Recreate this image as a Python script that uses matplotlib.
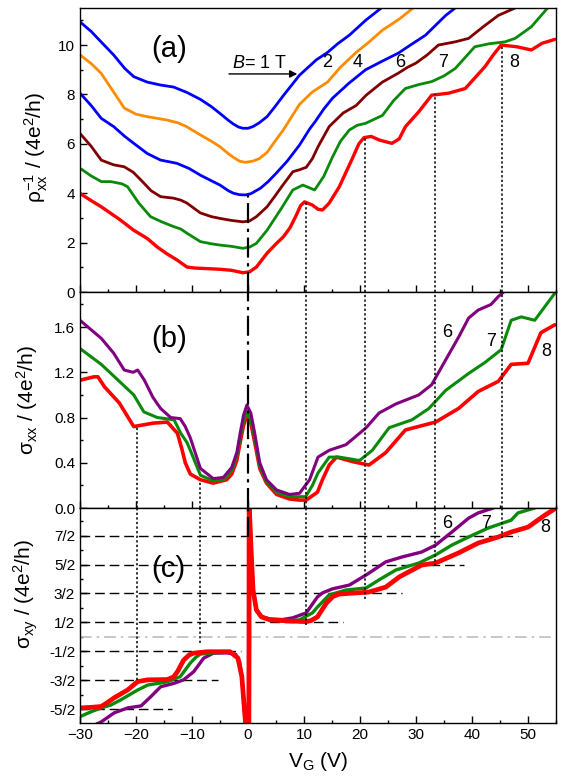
import numpy as np
import matplotlib
matplotlib.use("Agg")
import matplotlib.pyplot as plt
from matplotlib.ticker import MultipleLocator, FixedLocator

plt.rcParams["font.family"] = ["Liberation Sans", "DejaVu Sans"]
plt.rcParams["mathtext.fontset"] = "custom"
plt.rcParams["mathtext.rm"] = "Liberation Sans"
plt.rcParams["mathtext.it"] = "Liberation Sans:italic"
plt.rcParams["lines.solid_joinstyle"] = "round"
plt.rcParams["lines.solid_capstyle"] = "round"

# ---- panel (a): inverse resistivity, one curve per field (offset)
a1_v = [-30, -28, -26.2, -24, -22, -20.4, -18, -15.6, -13.3, -10.9, -8.5, -6.5, -5, -3.5, -2.6, -1.7, -0.9, 0, 0.9, 2, 3.4, 4.8, 6.3, 9.2, 12.2, 14.2, 16, 18.1, 21, 23.8]
a1_y = [10.94, 10.55, 10.12, 9.6, 9.05, 8.72, 8.5, 8.38, 8.3, 8.08, 7.8, 7.5, 7.23, 6.95, 6.8, 6.68, 6.63, 6.63, 6.7, 6.85, 7.1, 7.5, 7.95, 8.78, 9.4, 9.7, 10.05, 10.4, 11.0, 11.5]
a2_v = [-30, -28, -26.2, -24, -22.1, -20, -18, -14.4, -12.5, -11, -8.5, -6.5, -5, -3.5, -2.6, -1.5, -0.5, 0.9, 2, 3.4, 4.8, 6.3, 9.2, 11.5, 14.2, 16.5, 19.3, 21.5, 24, 27, 29.5]
a2_y = [9.6, 9.25, 8.85, 8.1, 7.45, 7.2, 7.1, 6.96, 6.85, 6.7, 6.36, 6.1, 5.88, 5.6, 5.45, 5.3, 5.25, 5.3, 5.4, 5.65, 6.1, 6.56, 7.6, 8.1, 8.5, 9.1, 9.7, 10.1, 10.6, 11.05, 11.5]
a4_v = [-30, -28, -26.2, -24, -22, -20.4, -18, -15.6, -14, -12.7, -10.5, -8.5, -6.5, -5, -3.5, -2.6, -1.5, -0.5, 0.5, 2.2, 3.5, 5, 7, 9.2, 11, 12, 13.5, 15.1, 18, 21, 24, 26.9, 29, 31.7, 33.5, 35.3, 37]
a4_y = [8.05, 7.55, 7.03, 6.7, 6.3, 6.02, 5.61, 5.34, 5.27, 5.21, 5.0, 4.73, 4.5, 4.33, 4.1, 4.0, 3.94, 3.93, 3.98, 4.2, 4.45, 4.8, 5.3, 5.95, 6.6, 6.9, 7.4, 7.85, 8.45, 9.0, 9.35, 9.68, 10.0, 10.4, 10.8, 11.2, 11.5]
a6_v = [-30, -28, -26.2, -24, -22.1, -20.5, -19.1, -17.3, -15.6, -13.3, -12, -10.9, -8.5, -6.5, -5, -3, -0.9, 0.3, 1.5, 3.4, 4.7, 6, 8.0, 9.2, 10.4, 11.5, 12.5, 14.5, 17, 19.3, 21.1, 24.0, 26.9, 28.5, 30, 32, 34, 37, 39.4, 42, 44.7, 47.7]
a6_y = [6.42, 5.9, 5.34, 5.15, 5.07, 4.85, 4.53, 4.1, 3.86, 3.8, 3.72, 3.6, 3.2, 3.05, 2.98, 2.9, 2.84, 2.88, 3.05, 3.45, 3.85, 4.26, 4.87, 4.95, 5.05, 5.4, 5.88, 6.7, 7.25, 7.55, 7.97, 8.5, 8.87, 9.1, 9.27, 9.6, 10.0, 10.13, 10.27, 10.74, 11.2, 11.5]
a7_v = [-30, -28, -26.2, -24.5, -22.5, -21.5, -19.5, -17.4, -15.5, -13.3, -12, -10.9, -8.5, -6.5, -5, -3, -0.9, 0.3, 1.5, 3.4, 6, 8.0, 9.8, 11.9, 13.5, 15.1, 16.5, 18.1, 19.5, 21, 24, 26, 28.1, 30.5, 32.8, 35, 37, 40.5, 43, 45.9, 47.7, 50.6, 53.5]
a7_y = [5.01, 4.7, 4.47, 4.47, 4.38, 4.26, 3.6, 3.05, 2.85, 2.65, 2.55, 2.38, 2.04, 1.95, 1.9, 1.85, 1.77, 1.82, 1.97, 2.5, 3.4, 4.13, 4.33, 4.13, 4.67, 5.47, 6.1, 6.56, 6.75, 6.83, 7.15, 7.75, 8.24, 8.4, 8.52, 8.75, 9.05, 9.93, 10.05, 10.13, 10.27, 10.74, 11.5]
a8_v = [-30, -28, -26.2, -23, -20.4, -18, -16.2, -14.5, -12.7, -10.9, -9.5, -8.5, -5, -3, -0.9, 0.3, 1.5, 3.4, 5, 6.3, 7.5, 8.5, 9.4, 10.1, 11.5, 12.5, 13.3, 14.5, 16.3, 18.5, 19.8, 20.7, 22, 23.5, 25.7, 27, 28.1, 30.5, 32.8, 35.8, 38.8, 42.3, 43.8, 45.2, 48, 50.6, 52.5, 54.8]
a8_y = [3.99, 3.7, 3.45, 2.95, 2.5, 2.17, 1.82, 1.55, 1.3, 1.01, 0.97, 0.96, 0.92, 0.88, 0.78, 0.82, 1.01, 1.57, 1.95, 2.23, 2.6, 3.05, 3.5, 3.65, 3.52, 3.35, 3.32, 3.6, 4.26, 5.34, 6.0, 6.25, 6.3, 6.15, 6.02, 6.2, 6.69, 7.3, 7.97, 8.05, 8.24, 9.12, 9.6, 10.0, 9.93, 9.8, 10.07, 10.23]

# ---- panel (b): sigma_xx at 6, 7, 8 T
b6_v = [-30, -26.2, -24, -22.1, -20.5, -19.7, -18.5, -17, -15.6, -13.8, -12.1, -11.2, -10.3, -8.5, -6.2, -4.4, -2.9, -2.0, -1.4, -0.8, -0.2, 0.5, 1.2, 2.1, 3.3, 5.1, 7.4, 9.2, 11.0, 12.5, 14.5, 17.5, 21.1, 23.4, 26.4, 30.5, 32.8, 35.3, 37.6, 39.4, 41.1, 43.4, 44.7, 45.9]
b6_y = [1.66, 1.5, 1.37, 1.22, 1.2, 1.22, 1.13, 0.98, 0.88, 0.8, 0.79, 0.72, 0.62, 0.35, 0.26, 0.27, 0.36, 0.49, 0.66, 0.82, 0.91, 0.84, 0.66, 0.4, 0.25, 0.16, 0.12, 0.13, 0.25, 0.45, 0.51, 0.56, 0.71, 0.84, 0.92, 1.0, 1.09, 1.31, 1.51, 1.68, 1.75, 1.8, 1.87, 1.92]
b7_v = [-30, -26.2, -20.4, -18.6, -16.2, -13.2, -12, -10.9, -10.3, -8.5, -6.2, -4.4, -2.9, -2.0, -1.4, -0.8, -0.2, 0.5, 1.2, 2.1, 3.3, 5.1, 7.4, 9.2, 10.3, 11.5, 12.5, 14.5, 16.3, 19.9, 22.2, 25.2, 29.3, 32.3, 35.3, 39.4, 42.4, 45.2, 47.0, 48.8, 51.2, 53.0, 54.8]
b7_y = [1.41, 1.27, 1.0, 0.85, 0.8, 0.78, 0.66, 0.58, 0.51, 0.29, 0.24, 0.25, 0.33, 0.46, 0.62, 0.77, 0.85, 0.78, 0.62, 0.37, 0.23, 0.14, 0.1, 0.1, 0.1, 0.2, 0.31, 0.45, 0.45, 0.42, 0.51, 0.71, 0.78, 0.88, 1.04, 1.19, 1.29, 1.4, 1.66, 1.69, 1.66, 1.78, 1.9]
b8_v = [-30, -27.5, -26.8, -25.6, -23, -20.4, -17, -14.4, -12.6, -11.8, -11.2, -10.3, -8.5, -6.2, -3.8, -2.9, -2.0, -1.4, -0.8, -0.2, 0.5, 1.2, 2.1, 3.3, 5.1, 7.4, 9.2, 10.4, 12.4, 13.3, 14.5, 15.8, 18.7, 21.6, 24.6, 28.1, 33.5, 37.6, 41.1, 44.7, 47.0, 50.0, 52.3, 54.8]
b8_y = [1.13, 1.16, 1.16, 1.07, 0.93, 0.72, 0.75, 0.76, 0.66, 0.52, 0.4, 0.3, 0.25, 0.22, 0.25, 0.3, 0.42, 0.58, 0.73, 0.81, 0.75, 0.58, 0.35, 0.22, 0.12, 0.08, 0.07, 0.07, 0.14, 0.25, 0.38, 0.45, 0.41, 0.38, 0.49, 0.69, 0.76, 0.88, 1.03, 1.12, 1.27, 1.28, 1.55, 1.62]

# ---- panel (c): sigma_xy at 6, 7, 8 T
c6_v = [-27.5, -26.2, -23.9, -21.5, -19.1, -17.4, -15.6, -13.2, -11.5, -9.7, -7.9, -6.2, -3.8, -2.2, -1.5, -1.1, -0.6, -0.35, 0.1, 0.15, 0.6, 0.9, 1.5, 2.4, 3.9, 6.2, 8.0, 10.4, 12.4, 13.3, 15.1, 18.1, 21.1, 24.6, 27.5, 31.0, 33.5, 36.4, 39.4, 41.1, 43.8, 44.5]
c6_y = [-3.05, -2.93, -2.62, -2.45, -2.38, -2.07, -1.72, -1.6, -1.48, -1.2, -0.73, -0.56, -0.55, -0.6, -0.85, -1.37, -2.6, -3.2, -3.2, 4.6, 2.8, 1.62, 0.95, 0.7, 0.62, 0.6, 0.66, 0.83, 1.38, 1.52, 1.66, 1.79, 2.14, 2.59, 2.76, 2.93, 3.17, 3.62, 4.1, 4.28, 4.45, 4.6]
c7_v = [-30, -28, -26.2, -24.5, -22.7, -19.7, -17.9, -14.4, -12.1, -10.3, -9.3, -8.5, -6.2, -3.2, -1.8, -1.1, -0.6, -0.35, 0.25, 0.3, 0.6, 0.9, 1.5, 2.4, 3.9, 6.2, 9.2, 11.5, 12.4, 14.5, 17.5, 21.1, 23.4, 26.4, 30.5, 33.5, 36.4, 39.4, 42.9, 47.0, 48.2, 51.2, 52]
c7_y = [-2.75, -2.58, -2.45, -2.35, -2.17, -1.83, -1.66, -1.55, -1.37, -0.9, -0.7, -0.59, -0.55, -0.52, -0.73, -1.37, -2.6, -3.2, -3.2, 4.6, 2.8, 1.62, 0.95, 0.7, 0.6, 0.55, 0.59, 0.83, 1.03, 1.45, 1.62, 1.69, 1.97, 2.31, 2.55, 2.83, 3.17, 3.45, 3.76, 4.03, 4.28, 4.45, 4.6]
c8_v = [-30, -28, -26.2, -25, -23.9, -21.5, -19.7, -17.9, -14.4, -13.3, -12.6, -11.5, -10.5, -9.7, -7.3, -3.2, -1.8, -1.1, -0.6, -0.35, 0.15, 0.2, 0.6, 0.9, 1.5, 2.4, 3.9, 7.4, 10.3, 11.2, 12.4, 14.0, 15.2, 16.3, 21.6, 24.6, 27.0, 31.0, 33.5, 37.6, 41.1, 44.7, 47.0, 50.0, 53.0, 55]
c8_y = [-2.45, -2.43, -2.4, -2.25, -2.1, -1.83, -1.54, -1.48, -1.47, -1.38, -1.2, -0.8, -0.62, -0.56, -0.51, -0.51, -0.73, -1.37, -2.6, -3.2, -3.2, 4.6, 2.8, 1.62, 0.93, 0.69, 0.59, 0.55, 0.53, 0.56, 0.69, 1.17, 1.4, 1.48, 1.55, 1.72, 2.07, 2.48, 2.55, 2.9, 3.24, 3.45, 3.62, 3.79, 4.2, 4.45]

# plateau levels (half integers) and how far each dashed guide runs
plateaus = [3.5, 2.5, 1.5, 0.5, -0.5, -1.5, -2.5]
plateau_end = [48.2, 38.5, 27.5, 17, -1.2, -5.3, -13.5]
plateau_labels = ["7/2", "5/2", "3/2", "1/2", "-1/2", "-3/2", "-5/2"]

# dotted guides: gate voltage, top in (a), bottom in (c)
guides_pos = [10.35, 20.9, 33.45, 45.4]
guides_a_top = [3.65, 6.27, 8.0, 9.98]
guides_c_bot = [0.4, 1.3, 2.45, 3.4]
guides_neg = [-19.86, -8.63]
guides_neg_b_top = [0.72, 0.24]
guides_neg_c_bot = [-1.5, -0.2]

RED = "#ff0000"
GREEN = "#0a8a0a"
PURPLE = "#800080"
XMIN, XMAX = -30, 55

fig = plt.figure(figsize=(5.64, 7.8), dpi=100)
L, W = 80 / 564, 476 / 564
ax_a = fig.add_axes([L, (780 - 292) / 780, W, 284 / 780])
ax_b = fig.add_axes([L, (780 - 508) / 780, W, 216 / 780])
ax_c = fig.add_axes([L, (780 - 723) / 780, W, 215 / 780])

for ax in (ax_a, ax_b, ax_c):
    ax.set_xlim(XMIN, XMAX)
    ax.xaxis.set_major_locator(MultipleLocator(10))
    ax.xaxis.set_minor_locator(MultipleLocator(5))
    ax.tick_params(which="both", direction="in", top=False, right=False, labelsize=11, width=1)
    ax.tick_params(which="major", length=5)
    ax.tick_params(which="minor", length=2.5)
    for s in ax.spines.values():
        s.set_linewidth(1)
ax_a.tick_params(axis="x", labelbottom=False)
ax_b.tick_params(axis="x", labelbottom=False)

# (a)
ax_a.plot(a1_v, a1_y, color="#0000ff", lw=2)
ax_a.plot(a2_v, a2_y, color="#ff8c00", lw=2)
ax_a.plot(a4_v, a4_y, color="#0000ff", lw=2)
ax_a.plot(a6_v, a6_y, color="#800000", lw=2)
ax_a.plot(a7_v, a7_y, color=GREEN, lw=2)
ax_a.plot(a8_v, a8_y, color=RED, lw=2.4)
ax_a.set_ylim(0, 11.5)
ax_a.yaxis.set_major_locator(MultipleLocator(2))
ax_a.yaxis.set_minor_locator(MultipleLocator(1))
ax_a.set_ylabel(r"ρ$_{\mathrm{xx}}^{-1}$ / (4e$^{2}$/h)", fontsize=15)
ax_a.yaxis.set_label_coords(-0.062, 0.51)
ax_a.text(-14.0, 9.84, "(a)", fontsize=21, ha="center", va="center")
ax_a.annotate("", xy=(9.3, 8.83), xytext=(-3.9, 8.83),
              arrowprops=dict(arrowstyle="-|>", color="k", lw=1, mutation_scale=11))
ax_a.text(-2.8, 9.07, r"$B$= 1 T", fontsize=13, ha="left", va="baseline")
for lab, xv in zip(["2", "4", "6", "7", "8"], [14.2, 19.5, 27.1, 34.9, 47.5]):
    ax_a.text(xv, 9.3, lab, fontsize=13, ha="center", va="center")

# (b)
ax_b.plot(b8_v, b8_y, color=RED, lw=2.6)
ax_b.plot(b7_v, b7_y, color=GREEN, lw=2.2)
ax_b.plot(b6_v, b6_y, color=PURPLE, lw=2.2)
ax_b.set_ylim(0, 1.91)
ax_b.yaxis.set_major_locator(FixedLocator([0, 0.4, 0.8, 1.2, 1.6]))
ax_b.yaxis.set_minor_locator(MultipleLocator(0.2))
ax_b.set_yticklabels(["0.0", "0.4", "0.8", "1.2", "1.6"])
ax_b.set_ylabel(r"σ$_{\mathrm{xx}}$ / (4e$^{2}$/h)", fontsize=15)
ax_b.yaxis.set_label_coords(-0.084, 0.5)
ax_b.text(-14.0, 1.49, "(b)", fontsize=21, ha="center", va="center")
for lab, xv, yv in zip(["6", "7", "8"], [35.5, 43.4, 53.2], [1.55, 1.47, 1.38]):
    ax_b.text(xv, yv, lab, fontsize=13, ha="center", va="center")

# (c)
ax_c.axhline(0, color="#bdbdbd", lw=1.2, dashes=(7, 3, 1.5, 3))
for yv, xe in zip(plateaus, plateau_end):
    ax_c.plot([XMIN, xe], [yv, yv], color="k", lw=1, dashes=(7, 3.5))
ax_c.plot(c6_v, c6_y, color=PURPLE, lw=2.4)
ax_c.plot(c7_v, c7_y, color=GREEN, lw=2.4)
ax_c.plot(c8_v, c8_y, color=RED, lw=3.4)
ax_c.set_ylim(-2.97, 4.45)
ax_c.yaxis.set_major_locator(FixedLocator(plateaus))
ax_c.yaxis.set_minor_locator(FixedLocator([-2, -1, 0, 1, 2, 3, 4]))
ax_c.set_yticklabels(plateau_labels)
ax_c.set_ylabel(r"σ$_{\mathrm{xy}}$ / (4e$^{2}$/h)", fontsize=15)
ax_c.yaxis.set_label_coords(-0.084, 0.6)
ax_c.set_xlabel(r"V$_{\mathrm{G}}$ (V)", fontsize=15, labelpad=6)
ax_c.text(-14.2, 2.35, "(c)", fontsize=21, ha="center", va="center")
for lab, xv, yv in zip(["6", "7", "8"], [35.5, 42.5, 53.0], [3.93, 3.93, 3.76]):
    ax_c.text(xv, yv, lab, fontsize=13, ha="center", va="center")

# dotted guides through the panels
dot = dict(color="k", lw=1.1, ls=(0, (1.5, 1.5)))
for xv, ta, bc in zip(guides_pos, guides_a_top, guides_c_bot):
    ax_a.plot([xv, xv], [0, ta], **dot)
    ax_b.plot([xv, xv], [0, 1.91], **dot)
    ax_c.plot([xv, xv], [bc, 4.45], **dot)
for xv, tb, bc in zip(guides_neg, guides_neg_b_top, guides_neg_c_bot):
    ax_b.plot([xv, xv], [0, tb], **dot)
    ax_c.plot([xv, xv], [bc, 4.45], **dot)

# dash-dot line at the Dirac point
dd = dict(color="k", lw=1.6, dashes=(9, 2.5, 1.5, 2.5))
ax_a.plot([0, 0], [0, 3.93], **dd)
ax_b.plot([0, 0], [0, 1.91], **dd)
ax_c.plot([0, 0], [3.45, 4.45], **dd)

fig.savefig("out.png", dpi=100)
